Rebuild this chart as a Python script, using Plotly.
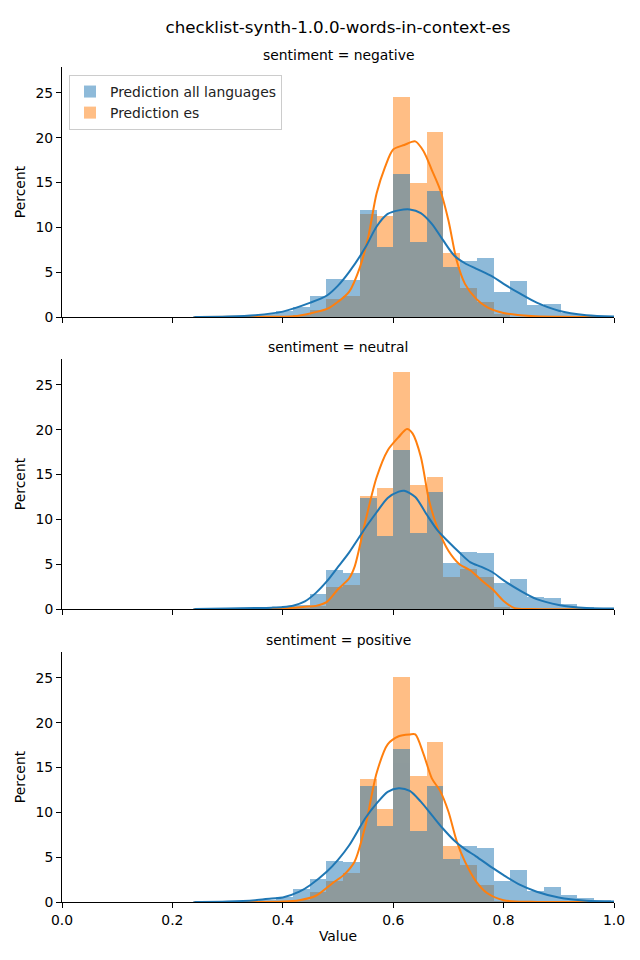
import plotly.graph_objects as go

# ---------------- data ----------------
title_text = "checklist-synth-1.0.0-words-in-context-es"
facets = ["sentiment = negative", "sentiment = neutral", "sentiment = positive"]
series_names = ["Prediction all languages", "Prediction es"]

bin_start = 0.2365
bin_width = 0.0303
n_bins = 25

# histogram heights (percent), 25 bins each
hist_all_negative = [0.02, 0.03, 0.05, 0.1, 0.3, 0.7, 1.1, 2.3, 4.2, 4.1, 11.9, 7.8, 16.0, 8.4, 14.1, 5.6, 6.2, 6.6, 2.8, 4.0, 1.3, 1.4, 0.5, 0.2, 0.1]
hist_es_negative = [0, 0, 0, 0, 0, 0.05, 0.2, 0.75, 2.0, 2.3, 11.5, 11.3, 24.5, 14.9, 20.7, 7.1, 3.2, 1.7, 0.3, 0, 0, 0, 0, 0, 0]

hist_all_neutral = [0.02, 0.03, 0.05, 0.1, 0.2, 0.2, 0.5, 1.7, 4.4, 4.0, 12.35, 8.2, 17.8, 8.5, 13.1, 5.1, 6.4, 6.3, 2.9, 3.4, 1.3, 1.2, 0.6, 0.2, 0.1]
hist_es_neutral = [0, 0, 0, 0, 0, 0, 0.1, 0.3, 2.4, 2.7, 12.6, 13.5, 26.5, 13.8, 14.7, 3.6, 4.5, 3.6, 0.2, 0, 0, 0, 0, 0, 0]

hist_all_positive = [0.02, 0.03, 0.05, 0.1, 0.25, 0.6, 1.4, 2.6, 4.6, 4.5, 13.0, 8.5, 17.1, 7.9, 13.0, 4.8, 6.2, 6.0, 2.35, 3.6, 1.2, 1.7, 0.8, 0.4, 0.2]
hist_es_positive = [0, 0, 0, 0, 0, 0.05, 0.2, 1.1, 2.35, 3.2, 13.7, 10.4, 25.1, 14.1, 17.9, 6.3, 4.1, 1.9, 0.1, 0, 0, 0, 0, 0, 0]

# KDE curves
kde_all_negative_x = [0.24, 0.30, 0.35, 0.40, 0.45, 0.48, 0.50, 0.52, 0.55, 0.57, 0.59, 0.61, 0.63, 0.65, 0.67, 0.69, 0.71, 0.73, 0.75, 0.78, 0.80, 0.83, 0.86, 0.90, 0.95, 1.0]
kde_all_negative_y = [0.0, 0.05, 0.2, 0.6, 1.6, 2.4, 3.5, 5.0, 7.8, 10.1, 11.5, 11.9, 12.0, 11.6, 10.4, 8.6, 6.9, 6.0, 5.4, 4.5, 3.7, 2.6, 1.6, 0.7, 0.2, 0.05]
kde_es_negative_x = [0.24, 0.35, 0.42, 0.45, 0.48, 0.50, 0.52, 0.54, 0.555, 0.57, 0.585, 0.60, 0.62, 0.64, 0.655, 0.67, 0.685, 0.70, 0.715, 0.73, 0.75, 0.77, 0.80, 0.85, 0.90, 1.0]
kde_es_negative_y = [0.0, 0.02, 0.08, 0.4, 0.9, 1.7, 2.8, 5.6, 9.0, 13.8, 16.7, 18.7, 19.2, 19.6, 18.5, 16.4, 14.2, 10.8, 6.3, 3.7, 2.05, 1.1, 0.45, 0.1, 0.02, 0.0]

kde_all_neutral_x = [0.24, 0.30, 0.35, 0.38, 0.40, 0.42, 0.44, 0.46, 0.48, 0.50, 0.52, 0.55, 0.57, 0.59, 0.61, 0.62, 0.64, 0.66, 0.68, 0.70, 0.72, 0.74, 0.76, 0.78, 0.80, 0.83, 0.86, 0.90, 0.95, 1.0]
kde_all_neutral_y = [0.0, 0.05, 0.1, 0.15, 0.22, 0.4, 0.85, 1.8, 3.1, 4.7, 6.3, 9.1, 10.8, 12.4, 13.1, 13.2, 12.5, 10.6, 8.8, 7.5, 6.3, 5.2, 4.7, 4.1, 3.2, 2.05, 1.1, 0.45, 0.1, 0.05]
kde_es_neutral_x = [0.24, 0.40, 0.44, 0.46, 0.48, 0.50, 0.52, 0.53, 0.55, 0.57, 0.59, 0.61, 0.625, 0.635, 0.65, 0.665, 0.68, 0.70, 0.72, 0.74, 0.76, 0.78, 0.80, 0.82, 0.85, 1.0]
kde_es_neutral_y = [0.0, 0.05, 0.25, 0.35, 0.8, 2.2, 3.4, 4.7, 9.9, 14.7, 17.7, 19.2, 20.1, 19.6, 17.0, 12.1, 9.1, 6.5, 5.0, 4.3, 3.2, 2.2, 0.9, 0.1, 0.0, 0.0]

kde_all_positive_x = [0.24, 0.30, 0.35, 0.38, 0.40, 0.43, 0.45, 0.48, 0.50, 0.52, 0.55, 0.57, 0.59, 0.61, 0.63, 0.65, 0.67, 0.69, 0.71, 0.73, 0.75, 0.78, 0.80, 0.83, 0.86, 0.90, 0.95, 1.0]
kde_all_positive_y = [0.0, 0.05, 0.2, 0.4, 0.5, 1.15, 1.9, 3.4, 4.7, 6.3, 9.4, 11.0, 12.3, 12.7, 12.4, 11.2, 9.7, 8.2, 6.9, 5.9, 5.1, 3.8, 3.0, 1.9, 1.15, 0.5, 0.15, 0.05]
kde_es_positive_x = [0.24, 0.40, 0.43, 0.46, 0.49, 0.51, 0.53, 0.55, 0.57, 0.59, 0.61, 0.63, 0.64, 0.655, 0.67, 0.685, 0.70, 0.715, 0.73, 0.75, 0.77, 0.80, 0.85, 1.0]
kde_es_positive_y = [0.0, 0.05, 0.2, 0.7, 2.1, 3.0, 4.5, 8.6, 14.4, 17.6, 18.5, 18.7, 18.7, 16.5, 13.8, 12.4, 10.1, 6.8, 4.5, 2.3, 1.0, 0.2, 0.02, 0.0]

x_tick_vals = [0.0, 0.2, 0.4, 0.6, 0.8, 1.0]
y_tick_vals = [0, 5, 10, 15, 20, 25]

# ---------------- figure ----------------
BLUE = "#1f77b4"
ORANGE = "#ff7f0e"
FONT = "DejaVu Sans"
FS = 13.9

hist_all = [hist_all_negative, hist_all_neutral, hist_all_positive]
hist_es = [hist_es_negative, hist_es_neutral, hist_es_positive]
kde_all = [(kde_all_negative_x, kde_all_negative_y), (kde_all_neutral_x, kde_all_neutral_y), (kde_all_positive_x, kde_all_positive_y)]
kde_es = [(kde_es_negative_x, kde_es_negative_y), (kde_es_neutral_x, kde_es_neutral_y), (kde_es_positive_x, kde_es_positive_y)]

centers = [bin_start + bin_width * (k + 0.5) for k in range(n_bins)]

OFF = 8  # page body margin
W, H = 640 - OFF, 960 - 2 * OFF
ml, mr, mt = 62 - OFF, 26, 67 - OFF
plot_bottom = 902 - OFF
mb = H - plot_bottom
ph = H - mt - mb
panels_px = [(67 - OFF, 317 - OFF), (359 - OFF, 609 - OFF), (652 - OFF, 902 - OFF)]
domains = [[(H - mb - b) / ph, (H - mb - t) / ph] for (t, b) in panels_px]
domains = [[max(0.0, d[0]), min(1.0, d[1])] for d in domains]

fig = go.Figure()
for i in range(3):
    xa = "x" if i == 0 else f"x{i+1}"
    ya = "y" if i == 0 else f"y{i+1}"
    fig.add_trace(go.Bar(x=centers, y=hist_es[i], width=bin_width, marker=dict(color=ORANGE, line=dict(width=0)),
                         opacity=0.5, name=series_names[1], showlegend=(i == 0), xaxis=xa, yaxis=ya,
                         legendgroup="es", legendrank=2))
    fig.add_trace(go.Bar(x=centers, y=hist_all[i], width=bin_width, marker=dict(color=BLUE, line=dict(width=0)),
                         opacity=0.5, name=series_names[0], showlegend=(i == 0), xaxis=xa, yaxis=ya,
                         legendgroup="all", legendrank=1))
    fig.add_trace(go.Scatter(x=kde_es[i][0], y=kde_es[i][1], mode="lines", line=dict(color=ORANGE, width=2, shape="spline", smoothing=0.8),
                             showlegend=False, xaxis=xa, yaxis=ya, hoverinfo="skip"))
    fig.add_trace(go.Scatter(x=kde_all[i][0], y=kde_all[i][1], mode="lines", line=dict(color=BLUE, width=2, shape="spline", smoothing=0.8),
                             showlegend=False, xaxis=xa, yaxis=ya, hoverinfo="skip"))

layout = dict(
    width=W, height=H,
    margin=dict(l=ml, r=mr, t=mt, b=mb, autoexpand=False),
    paper_bgcolor="white", plot_bgcolor="white",
    barmode="overlay", bargap=0,
    font=dict(family=FONT, size=FS, color="black"),
    title=dict(text=title_text, x=(ml + (W - ml - mr) / 2) / W, xanchor="center", y=1 - (27 - OFF) / H, yanchor="middle",
               font=dict(family=FONT, size=16.7, color="black")),
    legend=dict(x=(69 - 62) / (W - ml - mr), y=1 - (75 - 67) / ph, xanchor="left", yanchor="top",
                bgcolor="rgba(255,255,255,0.8)", bordercolor="#cccccc", borderwidth=1,
                font=dict(family=FONT, size=FS, color="#222222"), tracegroupgap=0,
                itemwidth=30),
    showlegend=True,
)

annotations = []
for i in range(3):
    sx = "" if i == 0 else str(i + 1)
    layout["xaxis" + sx] = dict(domain=[0, 1], anchor="y" + sx, range=[0, 1], tickvals=x_tick_vals,
                                ticktext=[f"{v:.1f}" for v in x_tick_vals], showticklabels=(i == 2),
                                ticks="outside", ticklen=5, tickwidth=1, tickcolor="black",
                                showline=True, linecolor="black", linewidth=1, showgrid=False, zeroline=False,
                                tickfont=dict(family=FONT, size=FS, color="black"), automargin=False)
    layout["yaxis" + sx] = dict(domain=domains[i], anchor="x" + sx, range=[0, 27.9], tickvals=y_tick_vals,
                                ticks="outside", ticklen=5, tickwidth=1, tickcolor="black",
                                showline=True, linecolor="black", linewidth=1, showgrid=False, zeroline=False,
                                tickfont=dict(family=FONT, size=FS, color="black"), automargin=False,
                                title=dict(text="Percent", font=dict(family=FONT, size=FS, color="black"), standoff=6))
    annotations.append(dict(text=facets[i], xref="paper", yref="paper", x=0.5, y=domains[i][1],
                            xanchor="center", yanchor="bottom", yshift=2, showarrow=False,
                            font=dict(family=FONT, size=FS, color="black")))
layout["xaxis3"]["title"] = dict(text="Value", font=dict(family=FONT, size=FS, color="black"), standoff=4)
layout["annotations"] = annotations

fig.update_layout(**layout)
fig.write_html("out.html")
